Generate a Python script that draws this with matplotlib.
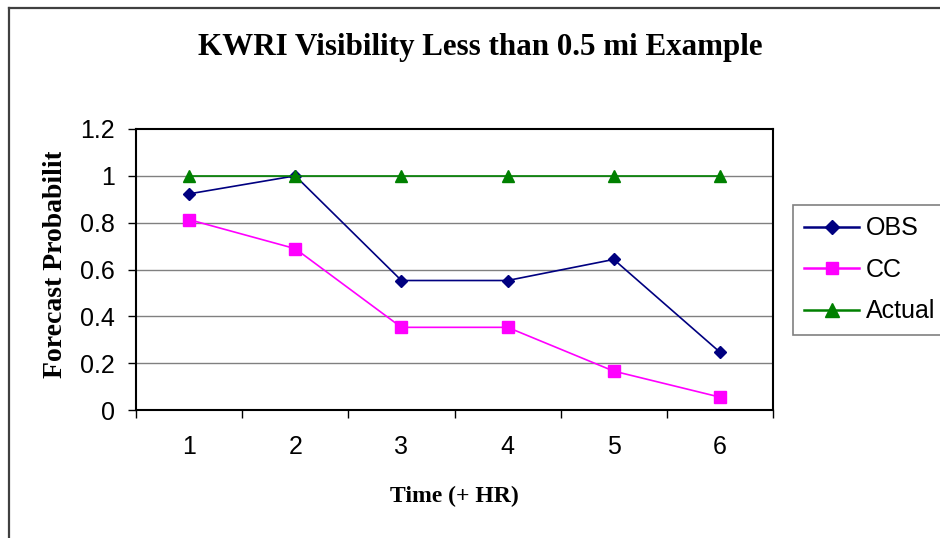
import matplotlib.pyplot as plt
from matplotlib.lines import Line2D
from matplotlib.patches import Rectangle

hours = [1, 2, 3, 4, 5, 6]
obs = [0.923, 1.0, 0.553, 0.553, 0.643, 0.247]
cc = [0.813, 0.689, 0.353, 0.353, 0.166, 0.055]
actual = [1, 1, 1, 1, 1, 1]
y_ticks = [0, 0.2, 0.4, 0.6, 0.8, 1, 1.2]
y_labels = ['0', '0.2', '0.4', '0.6', '0.8', '1', '1.2']

W, H = 940, 538
fig = plt.figure(figsize=(W / 100, H / 100), dpi=100)
ax = fig.add_axes([136 / W, 1 - 410 / H, (773 - 136) / W, (410 - 129) / H])

# outer chart border (cut off at right and bottom)
fig.add_artist(Line2D([9 / W, 9 / W], [0, 1 - 8 / H], color='#404040', lw=1.6))
fig.add_artist(Line2D([9 / W, 1], [1 - 8 / H, 1 - 8 / H], color='#404040', lw=1.6))

ax.plot(hours, obs, color='#000080', marker='D', markersize=6.5, lw=1.2, label='OBS')
ax.plot(hours, cc, color='#FF00FF', marker='s', markersize=8.5, lw=1.2, label='CC')
ax.plot(hours, actual, color='#008000', marker='^', markersize=9, lw=1.2, label='Actual')

ax.set_xlim(0.5, 6.5)
ax.set_ylim(0, 1.2)
ax.set_yticks(y_ticks)
ax.set_yticklabels(y_labels, fontsize=18, family='Liberation Sans')
ax.set_xticks([h + 0.5 for h in [0] + hours])
ax.set_xticklabels([])
ax.set_xticks(hours, minor=True)
ax.set_xticklabels([str(h) for h in hours], minor=True, fontsize=18, family='Liberation Sans')
ax.tick_params(axis='x', which='minor', length=0, pad=18)
ax.tick_params(axis='x', which='major', direction='out', length=6, width=1)
ax.tick_params(axis='y', direction='out', length=6, width=1, pad=9)
for g in y_ticks[1:-1]:
    ax.axhline(g, color='#808080', lw=1, zorder=0)
for s in ax.spines.values():
    s.set_linewidth(1.5)
    s.set_color('black')

ax.set_xlabel('Time (+ HR)', fontsize=17, family='Liberation Serif', fontweight='bold', labelpad=19)

# y label is cut off at the top in the original chart
ylab = fig.text(55 / W, 1 - 257 / H, 'Forecast Probability', rotation=90, fontsize=20,
                family='Liberation Serif', fontweight='bold', ha='center', va='center')
clip = Rectangle((0, 0), 1, 1 - 152 / H, transform=fig.transFigure, visible=False)
fig.add_artist(clip)
ylab.set_clip_path(clip)

fig.text(480 / W, 1 - 48 / H, 'KWRI Visibility Less than 0.5 mi Example', fontsize=22.3,
         family='Liberation Serif', fontweight='bold', ha='center', va='center')

leg = ax.legend(loc='upper left', bbox_to_anchor=(793 / W, 1 - 205 / H), bbox_transform=fig.transFigure,
                prop={'family': 'Liberation Sans', 'size': 18}, frameon=True, fancybox=False,
                handlelength=2.2, handletextpad=0.25, borderpad=0.45, labelspacing=0.7,
                borderaxespad=0, markerscale=1.1)
leg.get_frame().set_edgecolor('#606060')
leg.get_frame().set_linewidth(1.2)
for line in leg.get_lines():
    line.set_linewidth(1.8)

fig.savefig('out.png', dpi=100)
